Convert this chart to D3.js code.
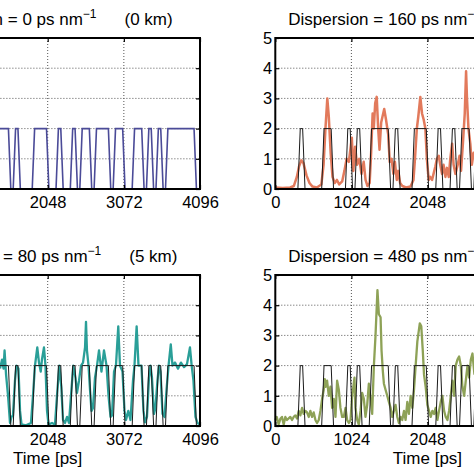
<!DOCTYPE html>
<html><head><meta charset="utf-8">
<script src="https://cdn.jsdelivr.net/npm/d3@7"></script>
<style>html,body{margin:0;padding:0;background:#fff;} svg{display:block;}</style>
</head><body>
<script>
// ---------- data ----------
const timeTicks = [0, 1024, 2048, 3072, 4096];
const powerTicks = [0, 1, 2, 3, 4, 5];
const bitPeriod = 64; // ps
const bits = [0,0,0,0,0,1,0,0,0,0, 1,1,0,0,0,1,0,1,0,0, 1,1,1,1,0,1,0,0,0,1,
              1,1,0,0,1,0,0,1,0,1, 1,0,1,1,1,0,1,1,0,0, 1,1,0,1,0,1,0,1,1,1, 1,1,1,0];
const dispersions = [0, 160, 80, 480];
const distancesKm = [0, 10, 5, 30];

const orangeT = [0,100,200,250,290,320,350,380,420,460,500,560,620,650,675,700,720,745,770,800,830,860,900,930,960,990,1030,1050,1075,1100,1130,1160,1190,1215,1240,1270,1290,1310,1325,1345,1365,1385,1403,1425,1466,1490,1520,1540,1565,1590,1610,1635,1655,1680,1710,1760,1820,1860,1880,1905,1925,1952,1975,1997,2020,2040,2065,2085,2110,2130,2155,2175,2200,2220,2245,2265,2290,2310,2335,2355,2380,2400,2425,2455,2480,2500,2525,2550,2568,2580,2600,2625,2645,2670,2700];
const orangeV = [0.05,0.03,0.05,0.1,0.4,0.75,0.95,0.85,0.45,0.2,0.08,0.05,0.15,0.8,2.0,3.0,2.4,1.2,0.4,0.2,0.3,0.15,0.25,0.6,1.0,0.9,1.7,0.6,1.4,0.8,1.0,0.5,0.9,0.3,0.1,0.2,1.2,2.5,2.0,2.85,3.05,2.0,1.3,2.2,2.65,2.3,1.8,0.9,1.0,0.5,0.9,0.3,0.6,0.2,0.1,0.05,0.08,0.3,1.0,2.0,2.4,3.05,2.5,2.3,2.0,1.0,0.3,0.4,0.3,0.5,0.75,1.0,1.1,0.8,0.5,0.8,0.4,0.7,0.4,1.0,1.5,0.8,0.5,0.8,1.1,0.6,1.5,2.5,3.9,3.0,2.0,1.5,0.8,1.2,1.0];

const tealT = [1407,1434,1454,1468,1488,1515,1541,1561,1581,1608,1628,1655,1676,1696,1756,1823,1850,1877,1908,1931,1954,1971,1998,2018,2039,2059,2106,2146,2173,2204,2231,2254,2281,2308,2334,2361,2392,2422,2442,2469,2496,2523,2550,2563,2576,2597,2617,2637,2657,2684,2711,2738,2771,2805,2839,2866,2893,2913,2940,2966,2997,3020,3054,3081,3101,3132,3161,3195,3215,3244,3269,3309,3336,3356,3383,3410,3430,3450,3477,3497,3524,3544,3565,3592,3619,3646,3673,3703,3726,3760,3800,3840,3881,3921,3961,3984,4008,4035,4062,4096];
const tealV = [1.9,2.2,1.9,2.5,1.7,1.0,0.1,0.3,0.35,1.5,2.0,1.9,0.5,0.05,0.02,0.1,1.0,2.0,2.6,2.1,1.8,2.2,2.6,2.0,0.5,0.05,0.1,0.05,1.0,2.0,1.3,0.2,0.1,0.3,0.1,1.0,2.0,1.6,1.1,1.5,2.0,2.1,2.6,3.45,2.5,2.0,1.2,0.5,0.6,1.6,2.0,2.5,1.8,2.5,2.0,1.0,0.3,0.35,1.8,2.0,3.3,2.0,1.8,0.5,0.2,0.5,0.2,1.5,2.0,3.3,2.0,2.0,0.5,0.12,0.3,1.6,2.0,1.6,0.4,0.6,1.5,2.0,1.8,0.4,0.3,1.2,2.0,2.7,2.0,2.1,1.9,2.1,1.95,2.05,2.6,2.0,1.5,0.3,0.1,0.05];

const greenT = [0,20,45,70,90,113,135,157,180,202,225,247,270,292,315,337,360,382,405,427,450,472,495,517,540,562,585,607,630,652,666,679,697,720,742,765,787,810,832,855,877,900,922,945,967,990,1012,1035,1066,1079,1102,1124,1147,1169,1192,1214,1237,1259,1282,1304,1327,1349,1375,1394,1417,1430,1448,1462,1484,1507,1529,1552,1574,1597,1619,1642,1664,1687,1709,1732,1754,1777,1799,1822,1844,1867,1889,1912,1945,1965,1985,2002,2024,2047,2069,2092,2114,2137,2159,2182,2204,2227,2249,2272,2294,2317,2339,2362,2384,2407,2429,2452,2474,2497,2519,2542,2564,2587,2609,2632,2654,2681];
const greenV = [0.2,0.3,0.05,0.25,0.3,0.05,0.3,0.2,0.25,0.3,0.2,0.3,0.35,0.25,0.5,0.35,0.6,0.4,0.5,0.45,0.3,0.5,0.3,0.45,0.2,0.1,0.2,0.5,0.9,1.2,1.55,1.3,1.5,1.0,1.3,0.6,0.9,0.3,1.5,1.2,0.6,0.3,0.3,0.6,0.2,0.1,0.2,1.0,1.6,0.6,0.2,0.05,0.5,1.1,0.9,0.3,0.7,1.4,0.9,0.4,2.0,3.0,4.5,3.7,3.6,2.5,1.8,1.4,1.2,1.0,0.8,0.6,0.3,0.5,0.7,0.3,0.1,0.3,0.2,0.5,0.2,0.8,0.4,1.0,0.6,1.2,2.0,2.8,3.4,3.3,2.5,1.7,1.3,0.7,0.5,0.3,0.5,0.4,0.6,0.2,0.5,0.8,1.0,0.5,0.3,0.2,0.5,1.0,1.5,1.0,2.0,2.2,2.3,2.0,1.3,1.0,1.5,2.0,1.6,2.2,2.4,1.7];

// ---------- layout ----------
const W = 474, H = 474;
const FONT = "'Liberation Sans', Arial, Helvetica, sans-serif";
const svg = d3.select("body").append("svg").attr("width", W).attr("height", H)
  .style("font-family", FONT);

const colX = [[-104.6, 200], [275.3, 579.6]];
const rowY = [[38, 189], [275, 426]];
const panels = [
  {col:0,row:0, color:"#4b4b98", width:1.6, t:null, v:null, idx:0, xlabel:false},
  {col:1,row:0, color:"#e27a5c", width:2.5, t:orangeT, v:orangeV, idx:1, xlabel:false},
  {col:0,row:1, color:"#2a9f98", width:2.3, t:tealT, v:tealV, idx:2, xlabel:true},
  {col:1,row:1, color:"#8ea257", width:2.3, t:greenT, v:greenV, idx:3, xlabel:true}
];

// reference bit waveform (trapezoidal edges)
const edge = 16;
const refPts = [];
bits.forEach((b, i) => {
  const prev = i === 0 ? b : bits[i-1];
  const T = i * bitPeriod;
  if (i === 0) refPts.push([0, 2*b]);
  else if (b !== prev) { refPts.push([T - edge, 2*prev]); refPts.push([T + edge, 2*b]); }
});
refPts.push([bits.length * bitPeriod, 2*bits[bits.length-1]]);

panels.forEach(p => {
  const [x0, x1] = colX[p.col], [y0, y1] = rowY[p.row];
  const x = d3.scaleLinear().domain([0, 4096]).range([x0, x1]);
  const y = d3.scaleLinear().domain([0, 5]).range([y1, y0]);
  const g = svg.append("g");

  // grid
  g.selectAll(".vg").data(timeTicks.slice(1, -1)).join("line")
    .attr("x1", d => x(d)).attr("x2", d => x(d)).attr("y1", y0).attr("y2", y1)
    .attr("stroke", "#555").attr("stroke-width", 1).attr("stroke-dasharray", "1,2");
  g.selectAll(".hg").data(powerTicks.slice(1, -1)).join("line")
    .attr("x1", x0).attr("x2", x1).attr("y1", d => y(d)).attr("y2", d => y(d))
    .attr("stroke", "#555").attr("stroke-width", 1).attr("stroke-dasharray", "1,2");

  const line = d3.line().x(d => x(d[0])).y(d => y(d[1]));
  if (p.t) {
    const pts = p.t.map((t, i) => [t, p.v[i]]);
    g.append("path").attr("d", line(pts)).attr("fill", "none")
      .attr("stroke", p.color).attr("stroke-width", p.width).attr("stroke-linejoin", "round");
    g.append("path").attr("d", line(refPts)).attr("fill", "none")
      .attr("stroke", "#1a1a1a").attr("stroke-width", 1);
  } else {
    g.append("path").attr("d", line(refPts)).attr("fill", "none")
      .attr("stroke", p.color).attr("stroke-width", p.width);
  }

  // axes with inward ticks
  const fs = "16.5px";
  const fmt = d3.format("d");
  const ax = g.append("g").attr("transform", `translate(0,${y1})`)
    .call(d3.axisBottom(x).tickValues(timeTicks).tickSizeInner(-4).tickSizeOuter(0).tickPadding(7).tickFormat(fmt));
  const ay = g.append("g").attr("transform", `translate(${x0},0)`)
    .call(d3.axisLeft(y).tickValues(powerTicks).tickSizeInner(-4).tickSizeOuter(0).tickPadding(3).tickFormat(fmt));
  const at = g.append("g").attr("transform", `translate(0,${y0})`)
    .call(d3.axisTop(x).tickValues(timeTicks).tickSizeInner(-4).tickSizeOuter(0).tickFormat(""));
  const ar = g.append("g").attr("transform", `translate(${x1},0)`)
    .call(d3.axisRight(y).tickValues(powerTicks).tickSizeInner(-4).tickSizeOuter(0).tickFormat(""));
  [ax, ay, at, ar].forEach(a => {
    a.select(".domain").remove();
    a.selectAll("line").attr("stroke", "#000").attr("stroke-width", 1.2);
    a.selectAll("text").attr("fill", "#000").style("font-size", fs).style("font-family", FONT);
  });

  // box
  g.append("rect").attr("x", x0).attr("y", y0).attr("width", x1 - x0).attr("height", y1 - y0)
    .attr("fill", "none").attr("stroke", "#000").attr("stroke-width", 2);

  // title
  const cx = (x0 + x1) / 2;
  const title = g.append("text").attr("x", cx).attr("y", y0 - 13)
    .attr("text-anchor", "middle").style("font-size", "17px").attr("fill", "#000");
  title.append("tspan").text(`Dispersion = ${dispersions[p.idx]} ps nm`);
  title.append("tspan").attr("dy", -7).style("font-size", "12px").text("\u22121");
  title.append("tspan").attr("dy", 7).attr("dx", 28).text(`(${distancesKm[p.idx]} km)`);

  if (p.xlabel) {
    g.append("text").attr("x", cx).attr("y", y1 + 37.5).attr("text-anchor", "middle")
      .style("font-size", "17px").attr("fill", "#000").text("Time [ps]");
  }
});
</script>
</body></html>
